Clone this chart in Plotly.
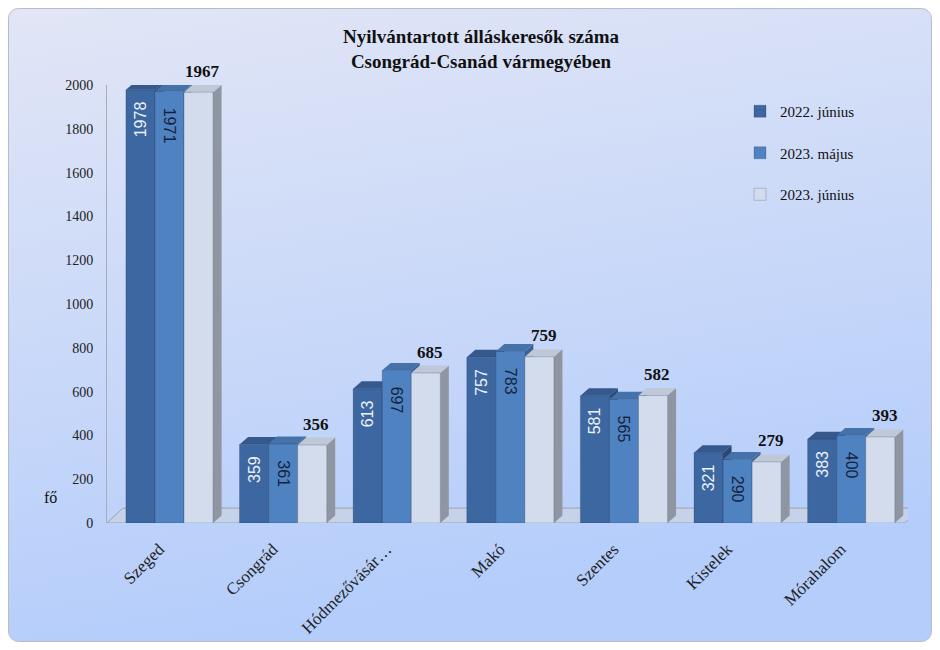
import base64
import plotly.graph_objects as go

categories = ["Szeged", "Csongrád", "Hódmezővásár…", "Makó", "Szentes", "Kistelek", "Mórahalom"]
series_names = ["2022. június", "2023. május", "2023. június"]
v_2022_jun = [1978, 359, 613, 757, 581, 321, 383]
v_2023_maj = [1971, 361, 697, 783, 565, 290, 400]
v_2023_jun = [1967, 356, 685, 759, 582, 279, 393]
y_ticks = [0, 200, 400, 600, 800, 1000, 1200, 1400, 1600, 1800, 2000]

series_values = [v_2022_jun, v_2023_maj, v_2023_jun]
front_colors = ["#3d67a0", "#4f82c0", "#d3dcec"]
top_colors = ["#35598c", "#4572ab", "#bfc8d6"]
side_colors = ["#2b4873", "#3a6296", "#8f96a1"]

W, H = 940, 650
ML, MR, MT, MB = 107, 32, 85, 127
PW, PH = W - ML - MR, H - MT - MB

bargap = 0.233
bw = (1 - bargap) / 3
depth_x = 0.075
depth_y = 34
depth_px = depth_y * PH / 2000
label_shift = 0.09

serif = "Liberation Serif"
sans = "Liberation Sans"
NB = "\u00a0"

fig = go.Figure()
xs = list(range(len(categories)))
for s, (name, vals) in enumerate(zip(series_names, series_values)):
    kw = {}
    if s == 0:
        kw = dict(text=[f"{v}{NB*2}" for v in vals], textposition="inside", insidetextanchor="end",
                  textangle=-90, insidetextfont=dict(family=sans, size=16, color="#eef2fa"))
    elif s == 1:
        kw = dict(text=[f"{NB*3}{v}" for v in vals], textposition="inside", insidetextanchor="end",
                  textangle=90, insidetextfont=dict(family=sans, size=16, color="#15223f"))
    fig.add_trace(go.Bar(
        x=xs, y=vals, name=name, legendgroup=name,
        marker=dict(color=front_colors[s], line=dict(color="rgba(20,30,60,0.35)", width=0.6)),
        hoverinfo="skip", **kw))

shapes = []
# floor
shapes.append(dict(type="path", xref="x", yref="y", layer="below",
                   path=f"M -0.55,0 L 6.47,0 L {6.47+0.14},{depth_y*2} L {-0.55+0.14},{depth_y*2} Z",
                   fillcolor="#c6d2e8", line=dict(color="#9aa3b0", width=1)))
# 3D faces of bars
for i in xs:
    for s, vals in enumerate(series_values):
        v = vals[i]
        x0 = i - (1 - bargap) / 2 + s * bw
        x1 = x0 + bw
        shapes.append(dict(type="path", xref="x", yref="y", layer="below",
                           path=f"M {x1},0 L {x1},{v} L {x1+depth_x},{v+depth_y} L {x1+depth_x},{depth_y} Z",
                           fillcolor=side_colors[s], line=dict(width=0)))
        shapes.append(dict(type="path", xref="x", yref="y", layer="below",
                           path=f"M {x0},{v} L {x0+depth_x},{v+depth_y} L {x1+depth_x},{v+depth_y} L {x1},{v} Z",
                           fillcolor=top_colors[s], line=dict(width=0)))

annotations = []
for i, v in enumerate(v_2023_jun):
    annotations.append(dict(x=i - (1 - bargap) / 2 + 2.5 * bw + depth_x / 2, y=v,
                            xref="x", yref="y", text=f"<b>{v}</b>", showarrow=False,
                            yanchor="bottom", yshift=depth_px + 2,
                            font=dict(family=serif, size=17, color="#111")))
annotations.append(dict(x=(42 - ML) / PW, y=(H - MB - 508) / PH, xref="paper", yref="paper",
                        text="fő", showarrow=False,
                        font=dict(family=serif, size=16, color="#111")))

svg = f'''<svg xmlns="http://www.w3.org/2000/svg" width="{W}" height="{H}" viewBox="0 0 {W} {H}" preserveAspectRatio="none">
<defs><linearGradient id="g" x1="0" y1="0" x2="0.25" y2="1">
<stop offset="0" stop-color="#e2e6f6"/><stop offset="1" stop-color="#b4cdfb"/></linearGradient></defs>
<rect x="0" y="0" width="{W}" height="{H}" fill="white"/>
<rect x="8.5" y="8.5" width="{W-17}" height="{H-17}" rx="10" ry="10" fill="url(#g)" stroke="#b8bcc4" stroke-width="1"/>
</svg>'''
src = "data:image/svg+xml;base64," + base64.b64encode(svg.encode()).decode()

fig.update_layout(
    width=W, height=H,
    margin=dict(l=ML, r=MR, t=MT, b=MB),
    paper_bgcolor="white", plot_bgcolor="rgba(0,0,0,0)",
    barmode="group", bargap=bargap, bargroupgap=0,
    title=dict(text="Nyilvántartott álláskeresők száma<br>Csongrád-Csanád vármegyében",
               x=481 / W, xanchor="center", y=1 - 43 / H, yanchor="top",
               font=dict(family=serif, size=19, color="#111", weight="bold")),
    images=[dict(source=src, xref="paper", yref="paper", x=-ML / PW, y=1 + MT / PH,
                 sizex=W / PW, sizey=H / PH, sizing="stretch", xanchor="left", yanchor="top",
                 layer="below")],
    shapes=shapes,
    annotations=annotations,
    showlegend=True,
    legend=dict(x=(740 - ML) / PW, y=(H - MB - 95) / PH, xanchor="left", yanchor="top",
                bgcolor="rgba(0,0,0,0)", tracegroupgap=19, itemwidth=30,
                font=dict(family=serif, size=15, color="#111")),
    xaxis=dict(range=[-0.55, 6.5], tickvals=[i - label_shift for i in xs], ticktext=categories,
               tickangle=-45, showgrid=False, zeroline=False, showline=False, ticks="",
               ticklabelstandoff=12, tickfont=dict(family=serif, size=17, color="#222")),
    yaxis=dict(range=[0, 2000], tickvals=y_ticks, showgrid=False, zeroline=False,
               showline=True, linecolor="#a7adb8", linewidth=1, ticks="",
               ticklabelstandoff=10, tickfont=dict(family=serif, size=14, color="#222")),
)

fig.write_html("out.html", config={"displayModeBar": False},
               post_script="document.body.style.margin='0';document.body.style.padding='0';")
